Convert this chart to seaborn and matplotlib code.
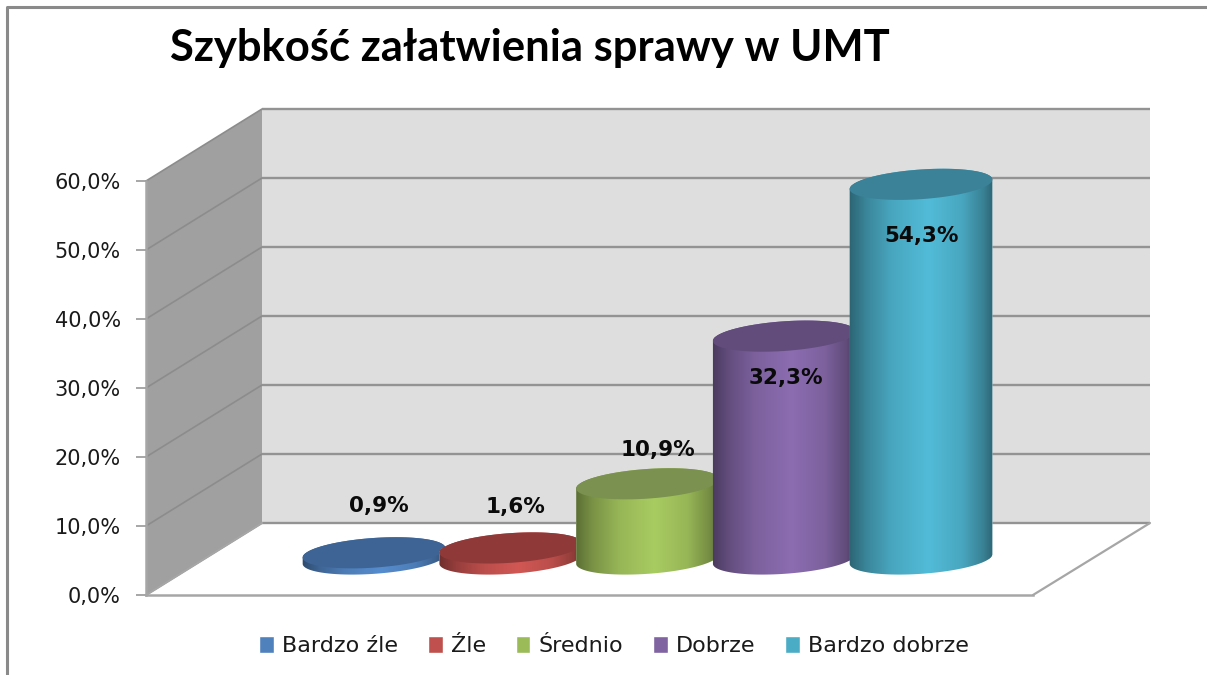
import numpy as np
import pandas as pd
import matplotlib
matplotlib.use("Agg")
import matplotlib.pyplot as plt
from matplotlib.colors import LinearSegmentedColormap, to_rgb
from matplotlib.lines import Line2D
from matplotlib.patches import Polygon
import seaborn as sns

# ---- data ----
categories = ["Bardzo źle", "Źle", "Średnio", "Dobrze", "Bardzo dobrze"]
values = [0.9, 1.6, 10.9, 32.3, 54.3]
value_labels = ["0,9%", "1,6%", "10,9%", "32,3%", "54,3%"]
y_ticks = [0, 10, 20, 30, 40, 50, 60]
y_tick_labels = ["0,0%", "10,0%", "20,0%", "30,0%", "40,0%", "50,0%", "60,0%"]
title = "Szybkość załatwienia sprawy w UMT"

# ---- style ----
colors = ["#4f81bd", "#c0504d", "#9bbb59", "#8064a2", "#4bacc6"]
top_colors = ["#3d6494", "#8f3a38", "#7a9150", "#624c7c", "#3b8299"]
label_offsets_px = [(5, 47), (5, 41), (10, 34), (2, -42), (1, -52)]
W, H = 1207, 675
DEPTH_X, DEPTH_Y = 116, 72 / 6.9
GRID = "#939393"
EDGE = "#a6a6a6"

sns.set_style("white")
plt.rcParams["font.family"] = ["DejaVu Sans"]

fig = plt.figure(figsize=(W / 100, H / 100), dpi=100, facecolor="white")


def rect(left, top, width, height):
    return [left / W, (H - top - height) / H, width / W, height / H]


# frame of the chart area
fig.add_artist(Line2D([7 / W, 7 / W, 1], [0, 1 - 7 / H, 1 - 7 / H], color="#8a8a8a", lw=2.2))

# ---- walls and axis ----
ax = fig.add_axes(rect(146, 181, 887, 414), facecolor="none")
ax.set_xlim(146, 1033)
ax.set_ylim(0, 60)
x0, x1 = 146, 1033
xb0, xb1 = x0 + DEPTH_X, 1150
ax.add_patch(Polygon([(x0, 0), (xb0, DEPTH_Y), (xb0, 60 + DEPTH_Y), (x0, 60)],
                     fc="#a0a0a0", ec="none", clip_on=False, zorder=1))
ax.add_patch(Polygon([(xb0, DEPTH_Y), (xb1, DEPTH_Y), (xb1, 60 + DEPTH_Y), (xb0, 60 + DEPTH_Y)],
                     fc="#dedede", ec="none", clip_on=False, zorder=1))
for v in y_ticks:
    ax.plot([x0, xb0], [v, v + DEPTH_Y], color="#8c8c8c", lw=1.2, clip_on=False, zorder=2)
    ax.plot([xb0, xb1], [v + DEPTH_Y, v + DEPTH_Y], color=GRID, lw=1.7, clip_on=False, zorder=2,
            solid_capstyle="butt")
ax.plot([x1, xb1], [0, DEPTH_Y], color=EDGE, lw=1.6, clip_on=False, zorder=2)
ax.plot([x0, xb0], [0, DEPTH_Y], color=EDGE, lw=1.6, clip_on=False, zorder=2)
ax.set_xticks([])
ax.set_yticks(y_ticks, y_tick_labels)
ax.tick_params(axis="y", left=True, length=7.2, width=1.4, color=EDGE, pad=11, labelsize=15,
               labelcolor="#1a1a1a")
for s in ("top", "right"):
    ax.spines[s].set_visible(False)
for s in ("left", "bottom"):
    ax.spines[s].set_color(EDGE)
    ax.spines[s].set_linewidth(1.8)

# ---- cylinders ----
PX_X = 683.75 / 5          # pixels per category
PX_Y = 414 / 60            # pixels per percent
X_LO, X_HI, Y_LO, Y_HI = -0.7, 4.7, -6, 62
bx = fig.add_axes(rect(374 + X_LO * PX_X, 559 - Y_HI * PX_Y, (X_HI - X_LO) * PX_X, (Y_HI - Y_LO) * PX_Y),
                  facecolor="none")
df = pd.DataFrame({"Ocena": categories, "Udział": values})
sns.barplot(data=df, x="Ocena", y="Udział", hue="Ocena", hue_order=categories,
            palette=colors, width=1.045, dodge=False, saturation=1, legend=True, ax=bx)
handles, labels = bx.get_legend_handles_labels()
bx.get_legend().remove()
bx.set_axis_off()

A, B, THETA = 71.5, 14.8, np.deg2rad(4.0)


def ellipse(cx, cy, ts):
    dx = A * np.cos(ts) * np.cos(THETA) - B * np.sin(ts) * np.sin(THETA)
    dy = A * np.cos(ts) * np.sin(THETA) + B * np.sin(ts) * np.cos(THETA)
    return np.column_stack([cx + dx / PX_X, cy + dy / PX_Y])


for i, (bar, base, top) in enumerate(zip(bx.patches, colors, top_colors)):
    h = bar.get_height()
    cx = bar.get_x() + bar.get_width() / 2
    lower = ellipse(cx, 0, np.linspace(np.pi, 2 * np.pi, 80))
    upper = ellipse(cx, h, np.linspace(0, np.pi, 80))
    z = 3 + i
    body = Polygon(np.vstack([lower, upper]), transform=bx.transData, fc="none", ec="none")
    bx.add_patch(body)
    bar.set_clip_path(body)
    bar.set_zorder(z)
    c = np.array(to_rgb(base))
    cmap = LinearSegmentedColormap.from_list(
        f"cyl{i}",
        [(0, c * 0.58), (0.12, c * 0.78), (0.3, c * 0.97), (0.55, np.minimum(c * 1.09, 1)),
         (0.78, c * 0.97), (0.93, c * 0.75), (1, c * 0.58)])
    im = bx.imshow(np.linspace(0, 1, 256)[None, :], cmap=cmap, aspect="auto", vmin=0, vmax=1,
                   extent=[cx - A / PX_X * 1.01, cx + A / PX_X * 1.01, -5, h + 4],
                   zorder=z + 0.1, interpolation="bilinear")
    im.set_clip_path(body)
    bx.add_patch(Polygon(ellipse(cx, h, np.linspace(0, 2 * np.pi, 160)), fc=top, ec="none",
                         clip_on=False, zorder=z + 0.2))
    dx, dy = label_offsets_px[i]
    bx.annotate(value_labels[i], (cx, h), xytext=(dx * 0.72, dy * 0.72), textcoords="offset points",
                ha="center", va="center", fontsize=15.5, fontweight="bold", color="#0a0a0a",
                zorder=20, annotation_clip=False)
bx.set_xlim(X_LO, X_HI)
bx.set_ylim(Y_LO, Y_HI)

# ---- title and legend ----
fig.text(170 / W, 1 - 48 / H, title, fontsize=31.4, fontweight="bold", family="Lato",
         color="black", ha="left", va="center")
fig.legend(handles, labels, loc="center", bbox_to_anchor=(614 / W, 1 - 646 / H), ncol=5,
           frameon=False, fontsize=16, handlelength=0.66, handleheight=0.85, handletextpad=0.36,
           columnspacing=1.35, labelcolor="#1a1a1a")

fig.savefig("out.png", dpi=100, facecolor="white")
